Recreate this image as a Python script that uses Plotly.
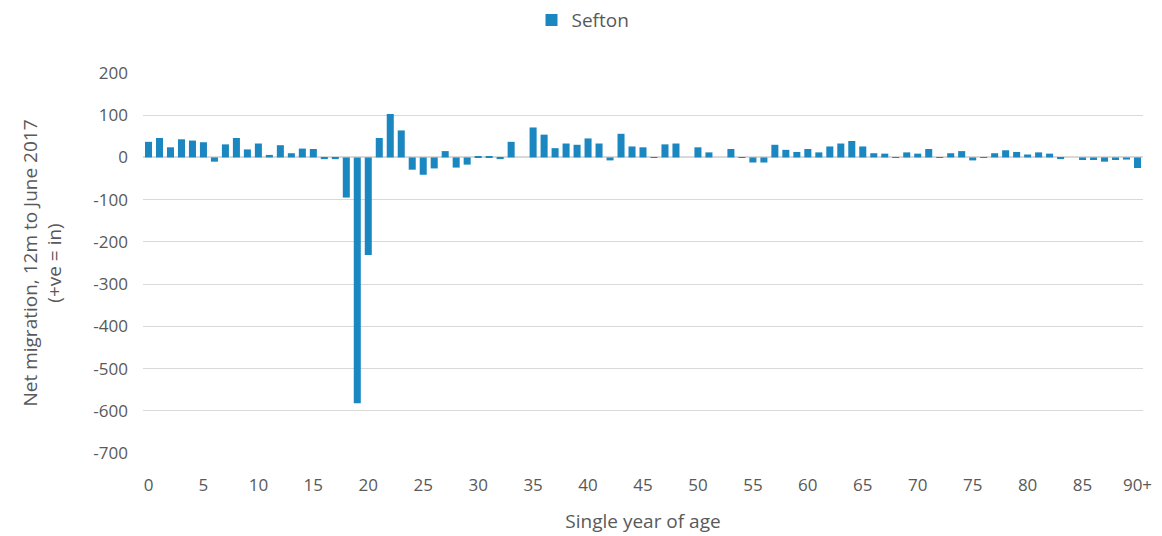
import plotly.graph_objects as go

ages = [str(i) for i in range(90)] + ["90+"]
sefton = [37, 46, 24, 43, 40, 36, -10, 31, 46, 19,
          33, 6, 29, 10, 21, 20, -4, -4, -95, -582,
          -231, 46, 103, 64, -29, -41, -26, 15, -24, -17,
          3, 3, -4, 37, 0, 71, 54, 22, 33, 30,
          45, 33, -7, 56, 26, 24, 1, 31, 33, 0,
          24, 12, 0, 20, 1, -12, -12, 30, 18, 13,
          20, 12, 26, 33, 39, 26, 10, 9, 1, 12,
          9, 20, -1, 10, 15, -7, 1, 10, 17, 13,
          7, 12, 9, -4, 0, -6, -6, -10, -6, -5,
          -25]
tick_labels = [str(i) for i in range(0, 90, 5)] + ["90+"]
y_ticks = [200, 100, 0, -100, -200, -300, -400, -500, -600, -700]
y_tick_text = [str(v) for v in y_ticks]

FONT = "Open Sans"
TXT = "#595959"

fig = go.Figure()
fig.add_trace(go.Bar(x=ages, y=sefton, name="Sefton", marker_color="#1B87C0",
                     marker_line_width=0))

fig.update_layout(
    width=1162, height=536,
    margin=dict(l=134.5, r=26.5, t=65, b=91, autoexpand=False),
    paper_bgcolor="white", plot_bgcolor="white",
    bargap=0.36,
    font=dict(family=FONT, color=TXT, size=17),
    showlegend=True,
    legend=dict(orientation="h", x=0.44, xanchor="center", y=1.139, yanchor="middle",
                font=dict(size=19, color=TXT), itemwidth=30),
    xaxis=dict(
        type="category", tickmode="array", tickvals=tick_labels, ticktext=tick_labels,
        showgrid=False, showline=False, zeroline=False, ticks="",
        tickfont=dict(size=17, color=TXT), ticklabelstandoff=20,
        title=dict(text="Single year of age", font=dict(size=19, color=TXT), standoff=19),
    ),
    yaxis=dict(
        range=[-700, 200], tickmode="array", tickvals=y_ticks, ticktext=y_tick_text,
        showgrid=True, gridcolor="#D9D9D9", gridwidth=1,
        zeroline=True, zerolinecolor="#D9D9D9", zerolinewidth=1.5,
        showline=False, ticks="", tickfont=dict(size=17, color=TXT), ticklabelstandoff=14,
        title=dict(text="Net migration, 12m to June 2017<br>(+ve = in)",
                   font=dict(size=19, color=TXT), standoff=26),
    ),
)

fig.write_html("out.html")
